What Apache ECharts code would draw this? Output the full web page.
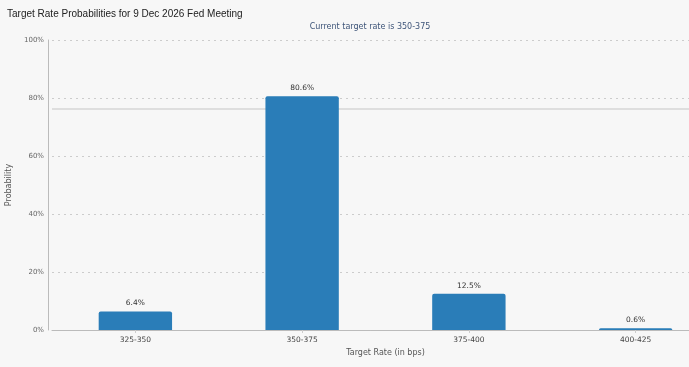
<!DOCTYPE html>
<html>
<head>
<meta charset="utf-8">
<script src="https://cdn.jsdelivr.net/npm/echarts@6/dist/echarts.min.js"></script>
<style>
html,body{margin:0;padding:0;background:#f7f7f7;}
#c{width:689px;height:367px;}
</style>
</head>
<body>
<div id="c"></div>
<script>
const categories = ['325-350', '350-375', '375-400', '400-425'];
const probabilities = [6.4, 80.6, 12.5, 0.6];
const yTicks = [0, 20, 40, 60, 80, 100];
const titleText = 'Target Rate Probabilities for 9 Dec 2026 Fed Meeting';
const subtitleText = 'Current target rate is 350-375';
const refLineValue = 76.4;

const chart = echarts.init(document.getElementById('c'));
chart.setOption({
  backgroundColor: '#f7f7f7',
  animation: false,
  title: [
    { text: titleText, left: 2, top: 4,
      textStyle: { fontFamily: 'Liberation Sans, Arial', fontSize: 10, fontWeight: 'normal', color: '#222' } },
    { text: subtitleText, left: 365, top: 18, textAlign: 'center',
      textStyle: { fontFamily: 'DejaVu Sans', fontSize: 8, fontWeight: 'normal', color: '#3d5478' } }
  ],
  grid: { left: 52, width: 667, top: 40, bottom: 37, containLabel: false, outerBoundsMode: 'none' },
  xAxis: {
    type: 'category',
    data: categories,
    name: 'Target Rate (in bps)',
    nameLocation: 'middle',
    nameGap: 18,
    nameTextStyle: { fontFamily: 'DejaVu Sans', fontSize: 8, color: '#555' },
    axisLine: { lineStyle: { color: '#bbb', width: 1 } },
    axisTick: { show: true, alignWithLabel: true, length: 3, lineStyle: { color: '#ccc' } },
    axisLabel: { fontFamily: 'DejaVu Sans', fontSize: 7.5, color: '#444', margin: 6 }
  },
  yAxis: {
    type: 'value',
    min: 0, max: 100, interval: 20,
    offset: 4,
    name: 'Probability',
    nameLocation: 'middle',
    nameGap: 35,
    nameMoveOverlap: false,
    nameRotate: 90,
    nameTextStyle: { fontFamily: 'DejaVu Sans', fontSize: 8, color: '#555' },
    axisLine: { show: true, lineStyle: { color: '#bbb', width: 1 } },
    axisTick: { show: false },
    axisLabel: { fontFamily: 'DejaVu Sans', fontSize: 7, color: '#666', margin: 4,
      formatter: v => yTicks.includes(v) ? v + '%' : '' },
    splitLine: { show: true, lineStyle: { color: '#ccc', type: [2, 4], width: 1 } }
  },
  series: [{
    type: 'bar',
    z: 3,
    data: probabilities,
    barWidth: '44%',
    itemStyle: { color: '#2a7db8', borderRadius: [2, 2, 0, 0] },
    label: { show: true, position: 'top', distance: 4, formatter: p => p.value + '%',
      fontFamily: 'DejaVu Sans', fontSize: 7.5, color: '#333' },
    markLine: {
      silent: true, symbol: 'none', label: { show: false }, z: 0,
      lineStyle: { color: '#d6d6d6', type: 'solid', width: 1.5 },
      data: [{ yAxis: refLineValue }]
    }
  }]
});
</script>
</body>
</html>
